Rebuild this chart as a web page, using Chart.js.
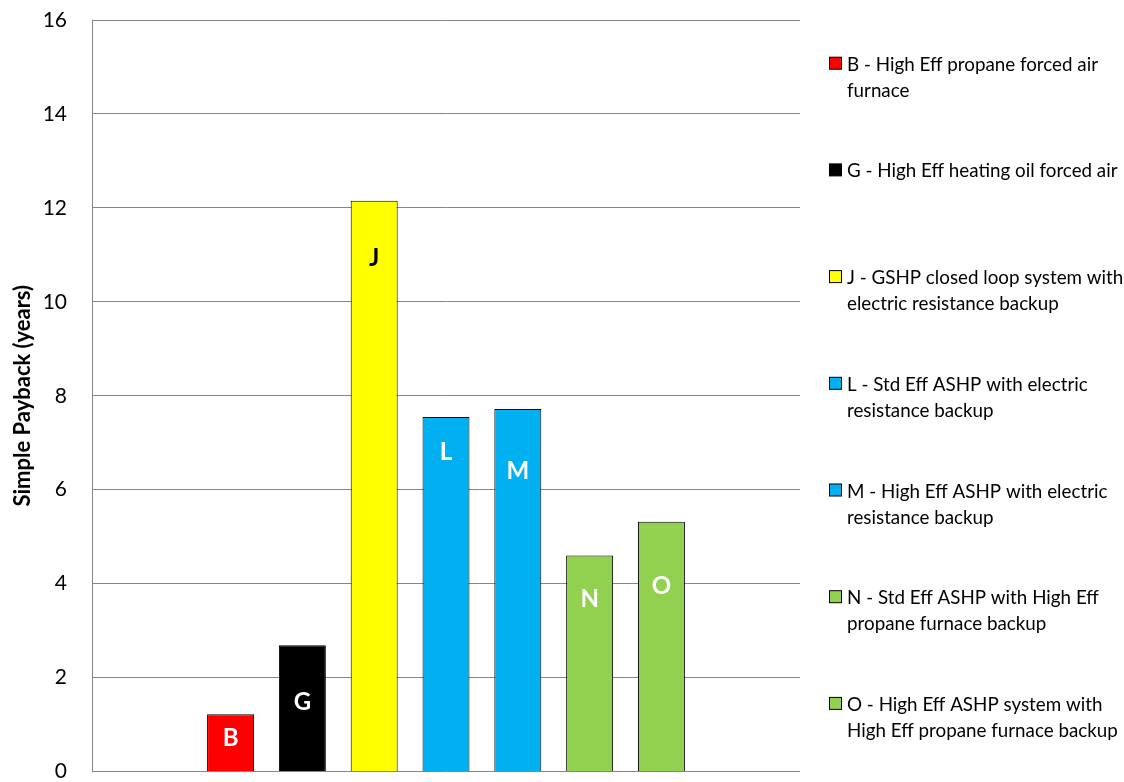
<!DOCTYPE html>
<html>
<head>
<meta charset="utf-8">
<script src="https://cdn.jsdelivr.net/npm/chart.js@4"></script>
<style>
	body { margin: 0; background: #fff; }
</style>
</head>
<body>
<canvas id="chart1" width="1124" height="782"></canvas>
<script>
const codes = ["B", "G", "J", "L", "M", "N", "O"];
const paybackYears = [1.22, 2.69, 12.15, 7.55, 7.72, 4.6, 5.32];
const barColors = ["#ff0000", "#000000", "#ffff00", "#00b0f0", "#00b0f0", "#92d050", "#92d050"];
const labelColors = ["#fff", "#fff", "#000", "#fff", "#fff", "#fff", "#fff"];
const legendLines = [
	["B - High Eff propane forced air", "furnace"],
	["G - High Eff heating oil forced air"],
	["J - GSHP closed loop system with", "electric resistance backup"],
	["L - Std Eff ASHP with electric", "resistance backup"],
	["M - High Eff ASHP with electric", "resistance backup"],
	["N - Std Eff ASHP with High Eff", "propane furnace backup"],
	["O - High Eff ASHP system with", "High Eff propane furnace backup"],
];
const yTicks = [0, 2, 4, 6, 8, 10, 12, 14, 16];

const FONT = "Lato, 'Open Sans', sans-serif";
const gridColor = "#868686";

// letters sit where they were dragged in the original, px below bar top
const labelOffsets = [24, 57, 57, 35, 62, 44, 65];

let letters = {
	id: "letters",
	afterDatasetsDraw: function (chart) {
		let ctx = chart.ctx;
		ctx.save();
		ctx.font = "bold 24px " + FONT;
		ctx.textAlign = "center";
		ctx.textBaseline = "middle";
		chart.data.datasets.forEach(function (ds, i) {
			let bar = chart.getDatasetMeta(i).data[0];
			ctx.fillStyle = labelColors[i];
			ctx.fillText(codes[i], bar.x, bar.y + labelOffsets[i]);
		});
		ctx.restore();
	},
};

let sideLegend = {
	id: "sideLegend",
	afterDraw: function (chart) {
		let ctx = chart.ctx;
		ctx.save();
		ctx.font = "18.8px " + FONT;
		ctx.textBaseline = "alphabetic";
		ctx.textAlign = "left";
		legendLines.forEach(function (lines, i) {
			let base = 70.7 + i * 106.7;
			ctx.fillStyle = barColors[i];
			ctx.fillRect(829.5, base - 13.5, 12, 12);
			ctx.strokeStyle = "#000";
			ctx.lineWidth = 1;
			ctx.strokeRect(829.5, base - 13.5, 12, 12);
			ctx.fillStyle = "#000";
			lines.forEach(function (t, k) {
				ctx.fillText(t, 847, base + k * 26);
			});
		});
		ctx.restore();
	},
};

let datasets = codes.map(function (c, i) {
	return {
		label: legendLines[i].join(" "),
		data: [paybackYears[i]],
		backgroundColor: barColors[i],
		borderColor: "#000",
		borderWidth: 1,
		categoryPercentage: 0.71,
		barPercentage: 0.654,
	};
});

let payback = new Chart(document.getElementById("chart1"), {
	type: "bar",
	data: {
		labels: [""],
		datasets: datasets,
	},
	plugins: [letters, sideLegend],
	options: {
		responsive: false,
		animation: false,
		layout: {
			padding: { top: 20, right: 324, bottom: 10.5, left: 0 },
		},
		plugins: {
			legend: { display: false },
			tooltip: { enabled: false },
		},
		scales: {
			x: {
				display: false,
			},
			y: {
				min: 0,
				max: 16,
				afterBuildTicks: function (scale) {
					scale.ticks = yTicks.map(function (v) {
						return { value: v };
					});
				},
				afterFit: function (scale) {
					scale.width = 92;
				},
				grid: {
					color: gridColor,
					lineWidth: 1,
					drawTicks: true,
					tickLength: 25,
					tickColor: "rgba(0,0,0,0)",
				},
				border: {
					color: gridColor,
					width: 1,
				},
				ticks: {
					padding: 0,
					color: "#000",
					font: { family: FONT, size: 21, lineHeight: 1 },
				},
				title: {
					display: true,
					text: "Simple Payback (years)",
					color: "#000",
					font: { family: FONT, size: 22, weight: "bold" },
					padding: { top: 9.5, bottom: 0 },
				},
			},
		},
	},
});
</script>
</body>
</html>
